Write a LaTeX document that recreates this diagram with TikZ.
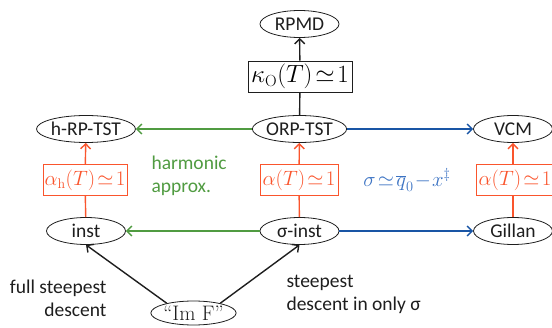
\documentclass[tikz,border=0pt]{standalone}
\usepackage{fontspec}
\setsansfont{Carlito}
\usetikzlibrary{shapes.geometric,arrows.meta}
\definecolor{orng}{RGB}{250,85,45}
\definecolor{grn}{RGB}{80,155,65}
\definecolor{blu}{RGB}{25,85,165}
\definecolor{blutxt}{RGB}{60,115,195}
\definecolor{txt}{RGB}{30,30,30}
\begin{document}
\begin{tikzpicture}[x=1pt,y=1pt,
  lab/.style={font=\sffamily\fontsize{19.5}{23}\selectfont,text=txt},
  ell/.style={ellipse,draw=txt,line width=0.8pt,inner sep=0pt,minimum width=79pt,minimum height=27pt,lab},
  cbox/.style={draw=orng,line width=0.8pt,inner sep=1pt,minimum width=78pt,minimum height=31pt,text=orng,font=\fontsize{20}{22}\selectfont},
  arr/.style={line width=1.4pt,-{Straight Barb[length=5pt,width=10pt]}},
  ln/.style={line width=1.4pt}]
\useasboundingbox (0,0) rectangle (552,327);
\begin{scope}
\clip (0,0) rectangle (552,327);
\node[ell] (rpmd) at (299.5,303) {RPMD};
\node[draw=txt,line width=0.8pt,inner sep=1pt,minimum width=104pt,minimum height=31pt,font=\fontsize{23}{25}\selectfont] (kap) at (300,250.5) {$\kappa_{\mathrm{O}}(T)\!\simeq\!1$};
\node[ell] (orp) at (299.5,198) {ORP-TST};
\node[ell] (hrp) at (86,198) {h-RP-TST};
\node[ell] (vcm) at (513,198) {VCM};
\node[cbox,minimum width=84pt] (ah) at (85,147) {$\alpha_{\mathrm{h}}(T)\!\simeq\!1$};
\node[cbox] (am) at (299,147) {$\alpha(T)\!\simeq\!1$};
\node[cbox] (ar) at (515,147) {$\alpha(T)\!\simeq\!1$};
\node[ell] (inst) at (86,96) {inst};
\node[ell] (sinst) at (299.5,96) {σ-inst};
\node[ell] (gill) at (513,96) {Gillan};
\node[ellipse,draw=txt,line width=0.8pt,inner sep=0pt,minimum width=81pt,minimum height=24pt,font=\rmfamily\fontsize{21}{23}\selectfont,text=txt] (imf) at (193.5,14) {``Im F''};
\node[lab,text=grn,anchor=west,align=left] (harm) at (148,151) {harmonic\\approx.};
\node[text=blutxt,font=\fontsize{21}{23}\selectfont] (sig) at (407,147) {$\sigma\!\simeq\!\overline{q}_0\!-\!x^{\ddagger}$};
\node[lab,anchor=east,align=right] (full) at (110,29) {full steepest\\descent};
\node[lab,anchor=west,align=left] (steep) at (283,33) {steepest\\descent in only σ};
\draw[ln,txt] (orp) -- (kap);
\draw[arr,txt] (kap) -- (rpmd);
\draw[arr,grn] (orp) -- (hrp);
\draw[arr,blu] (orp) -- (vcm);
\draw[arr,grn] (sinst) -- (inst);
\draw[arr,blu] (sinst) -- (gill);
\draw[ln,orng] (inst) -- (ah);
\draw[arr,orng] (ah) -- (hrp);
\draw[ln,orng] (sinst) -- (am);
\draw[arr,orng] (am) -- (orp);
\draw[ln,orng] (gill) -- (ar.south -| gill);
\draw[arr,orng] (ar.north -| vcm) -- (vcm);
\draw[arr,txt] (imf.160) -- (inst.south);
\draw[arr,txt] (imf.20) -- (sinst.south);
\end{scope}
\end{tikzpicture}
\end{document}
